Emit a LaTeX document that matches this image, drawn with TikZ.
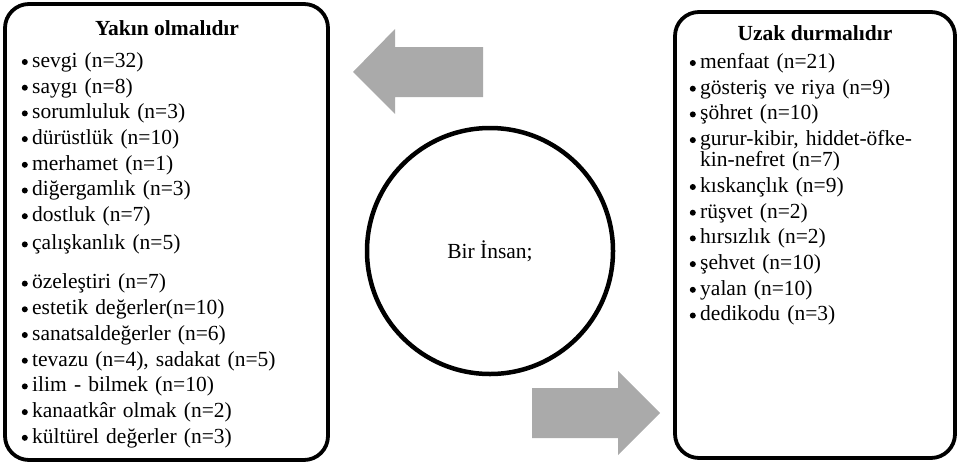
\documentclass[tikz,border=0pt]{standalone}
\usepackage{fontspec}
\setmainfont{Liberation Serif}
\usetikzlibrary{positioning}

\definecolor{okgri}{HTML}{AAAAAA}

\begin{document}
\begin{tikzpicture}[x=1pt, y=-1pt, node distance=6pt,
    every node/.style={font=\fontsize{21.5}{25}\selectfont},
    box/.style={draw, line width=3.8pt, rounded corners=24pt, inner sep=0pt},
    baslik/.style={font=\fontsize{21.5}{25}\selectfont\bfseries},
    nokta/.style={circle, fill, inner sep=0pt, minimum size=6pt},
    item/.style={inner sep=0pt, text height=15pt, text depth=4.3pt, align=left,
      label={[nokta, label distance=4pt]left:{}}},
    devam/.style={inner sep=0pt, text height=15pt, text depth=4.3pt, align=left}]
  \useasboundingbox (0,0) rectangle (957,463);

  % left box
  \node[box, minimum width=323pt, minimum height=456pt] (yakin) at (166.5,232) {};
  \node[baslik] (yakinbaslik) at (167,28) {Yakın olmalıdır};
  \node[item, text width=280pt, anchor=west] (sevgi) at (32,62) {sevgi (n=32)};
  \node[item, text width=280pt] (saygi) [below=of sevgi] {saygı (n=8)};
  \node[item, text width=280pt] (sorum) [below=of saygi] {sorumluluk (n=3)};
  \node[item, text width=280pt] (durust) [below=of sorum] {dürüstlük (n=10)};
  \node[item, text width=280pt] (merhamet) [below=of durust] {merhamet (n=1)};
  \node[item, text width=280pt] (diger) [below=of merhamet] {diğergamlık (n=3)};
  \node[item, text width=280pt] (dost) [below=of diger] {dostluk (n=7)};
  \node[item, text width=280pt] (calis) [below=of dost, yshift=-2.5pt] {çalışkanlık (n=5)};
  \node[item, text width=280pt] (ozel) [below=of calis, yshift=-13.5pt] {özeleştiri (n=7)};
  \node[item, text width=280pt] (estetik) [below=of ozel] {estetik değerler(n=10)};
  \node[item, text width=280pt] (sanat) [below=of estetik] {sanatsaldeğerler (n=6)};
  \node[item, text width=280pt] (tevazu) [below=of sanat] {tevazu (n=4), sadakat (n=5)};
  \node[item, text width=280pt] (ilim) [below=of tevazu] {ilim - bilmek (n=10)};
  \node[item, text width=280pt] (kanaat) [below=of ilim] {kanaatkâr olmak (n=2)};
  \node[item, text width=280pt] (kultur) [below=of kanaat] {kültürel değerler (n=3)};

  % centre
  \node[circle, draw, line width=4.5pt, minimum size=246pt] (insan) at (490,251) {Bir İnsan;};

  % arrows
  \fill[okgri] (353,72) -- (395,29) -- (395,47) -- (483,47) -- (483,97)
    -- (395,97) -- (395,114) -- cycle;
  \fill[okgri] (532,388) -- (618,388) -- (618,371) -- (660,413) -- (618,455)
    -- (618,438) -- (532,438) -- cycle;

  % right box
  \node[box, minimum width=280pt, minimum height=446pt] (uzak) at (815,235) {};
  \node[baslik] (uzakbaslik) at (815,33) {Uzak durmalıdır};
  \node[item, text width=245pt, anchor=west] (menfaat) at (700,63) {menfaat (n=21)};
  \node[item, text width=245pt] (goster) [below=of menfaat] {gösteriş ve riya (n=9)};
  \node[item, text width=245pt] (sohret) [below=of goster] {şöhret (n=10)};
  \node[item, text width=245pt] (gurur) [below=of sohret] {gurur-kibir, hiddet-öfke-};
  \node[devam, text width=245pt] (kin) [below=1.5pt of gurur] {kin-nefret (n=7)};
  \node[item, text width=245pt] (kiskanc) [below=of kin] {kıskançlık (n=9)};
  \node[item, text width=245pt] (rusvet) [below=of kiskanc] {rüşvet (n=2)};
  \node[item, text width=245pt] (hirsiz) [below=of rusvet] {hırsızlık (n=2)};
  \node[item, text width=245pt] (sehvet) [below=of hirsiz] {şehvet (n=10)};
  \node[item, text width=245pt] (yalan) [below=of sehvet] {yalan (n=10)};
  \node[item, text width=245pt] (dedikodu) [below=of yalan] {dedikodu (n=3)};
\end{tikzpicture}
\end{document}
